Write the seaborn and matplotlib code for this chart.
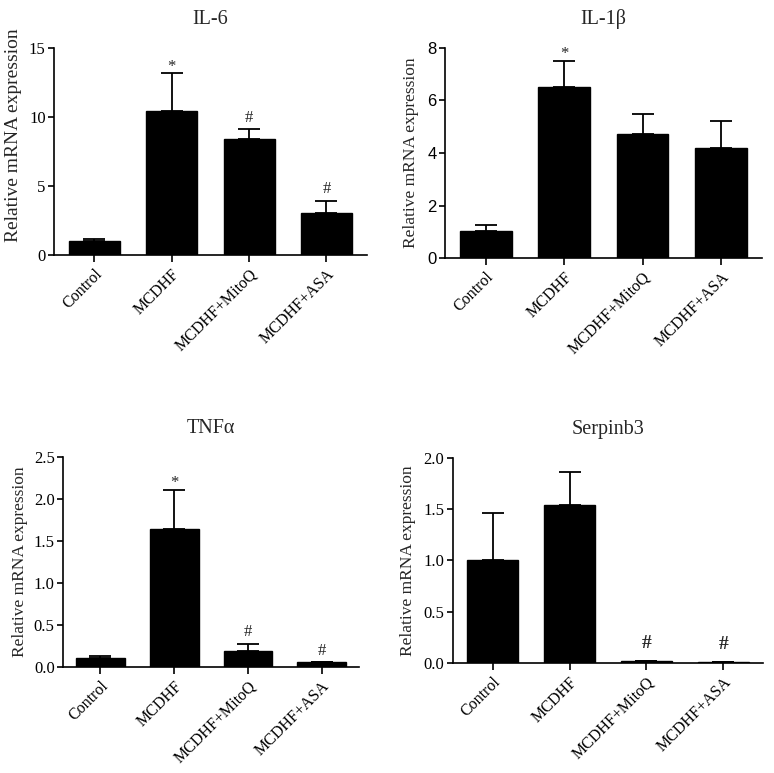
import numpy as np
import pandas as pd
import matplotlib
matplotlib.use("Agg")
import matplotlib.pyplot as plt
import seaborn as sns

groups = ["Control", "MCDHF", "MCDHF+MitoQ", "MCDHF+ASA"]

il6_mean = [1.0, 10.4, 8.38, 3.05]
il6_err = [0.13, 2.75, 0.72, 0.9]
il6_marks = ["", "*", "#", "#"]

il1b_mean = [1.03, 6.53, 4.74, 4.2]
il1b_err = [0.25, 0.99, 0.76, 1.02]
il1b_marks = ["", "*", "", ""]

tnf_mean = [0.114, 1.64, 0.197, 0.06]
tnf_err = [0.02, 0.47, 0.083, 0.0]
tnf_marks = ["", "*", "#", "#"]

serp_mean = [1.005, 1.54, 0.025, 0.015]
serp_err = [0.455, 0.32, 0.0, 0.0]
serp_marks = ["", "", "#", "#"]

sns.set_theme(style="ticks")
plt.rcParams["font.family"] = ["Liberation Serif", "DejaVu Serif"]
plt.rcParams["mathtext.fontset"] = "stix"

fig = plt.figure(figsize=(7.74, 7.73), dpi=100)

panels = [
    dict(title="IL-6", mean=il6_mean, err=il6_err, marks=il6_marks,
         pos=[0.0698, 0.670, 0.404, 0.268], ylim=(0, 15), ticks=[0, 5, 10, 15],
         fmt="{:.0f}", tickfont="serif", xpad=0.52, markbold=False,
         ylabsize=14, ylabxy=(-0.102, 0.58)),
    dict(title="IL-1β", mean=il1b_mean, err=il1b_err, marks=il1b_marks,
         pos=[0.575, 0.666, 0.409, 0.272], ylim=(0, 8), ticks=[0, 2, 4, 6, 8],
         fmt="{:.0f}", tickfont="sans", xpad=0.52, markbold=False,
         ylabsize=12.5, ylabxy=(-0.082, 0.5)),
    dict(title="TNFα", mean=tnf_mean, err=tnf_err, marks=tnf_marks,
         pos=[0.0814, 0.1367, 0.3826, 0.2723], ylim=(0, 2.5), ticks=[0, 0.5, 1.0, 1.5, 2.0, 2.5],
         fmt="{:.1f}", tickfont="serif", xpad=0.507, markbold=False,
         ylabsize=12.5, ylabxy=(-0.118, 0.5)),
    dict(title="Serpinb3", mean=serp_mean, err=serp_err, marks=serp_marks,
         pos=[0.585, 0.142, 0.401, 0.266], ylim=(0, 2.0), ticks=[0, 0.5, 1.0, 1.5, 2.0],
         fmt="{:.1f}", tickfont="serif", xpad=0.52, markbold=True,
         ylabsize=12.5, ylabxy=(-0.119, 0.5)),
]

for p in panels:
    ax = fig.add_axes(p["pos"])
    df = pd.DataFrame({"group": groups, "value": p["mean"]})
    sns.barplot(data=df, x="group", y="value", ax=ax, color="black",
                width=0.66, errorbar=None, saturation=1, edgecolor="black")
    x = np.arange(len(groups))
    ax.errorbar(x, p["mean"], yerr=[np.zeros(len(groups)), p["err"]],
                fmt="none", ecolor="black", elinewidth=1.3, capsize=8, capthick=1.3)
    ax.set_xlim(-p["xpad"], len(groups) - 1 + p["xpad"])
    ax.set_ylim(*p["ylim"])
    ax.set_yticks(p["ticks"])
    if p["tickfont"] == "sans":
        ax.set_yticklabels([p["fmt"].format(t) for t in p["ticks"]],
                           family=["Liberation Sans", "DejaVu Sans"], fontsize=12)
    else:
        ax.set_yticklabels([p["fmt"].format(t) for t in p["ticks"]], fontsize=12)
    ax.set_xticks(x)
    ax.set_xticklabels(groups, rotation=45, ha="right", rotation_mode="anchor", fontsize=11.5)
    ax.set_xlabel("")
    ax.set_ylabel("Relative mRNA expression", fontsize=p["ylabsize"])
    ax.yaxis.set_label_coords(*p["ylabxy"])
    ax.set_title(p["title"], fontsize=14.5, pad=17)
    for s in ["top", "right"]:
        ax.spines[s].set_visible(False)
    for s in ["left", "bottom"]:
        ax.spines[s].set_linewidth(1.2)
        ax.spines[s].set_color("black")
    ax.tick_params(axis="y", direction="out", length=4, width=1.2, colors="black", pad=2)
    ax.tick_params(axis="x", direction="out", length=5, width=1.2, colors="black", pad=3)
    for xi, m, e, mk in zip(x, p["mean"], p["err"], p["marks"]):
        if not mk:
            continue
        if mk == "*":
            off, fs, fw = 2, 12, "normal"
        elif p["markbold"]:
            off, fs, fw = 9, 14, "bold"
        else:
            off, fs, fw = 5.5, 12, "normal"
        ax.annotate(mk, xy=(xi, m + e), xytext=(0, off), textcoords="offset points",
                    ha="center", va="baseline", fontsize=fs, fontweight=fw)

fig.savefig("out.png", dpi=100, facecolor="white")
